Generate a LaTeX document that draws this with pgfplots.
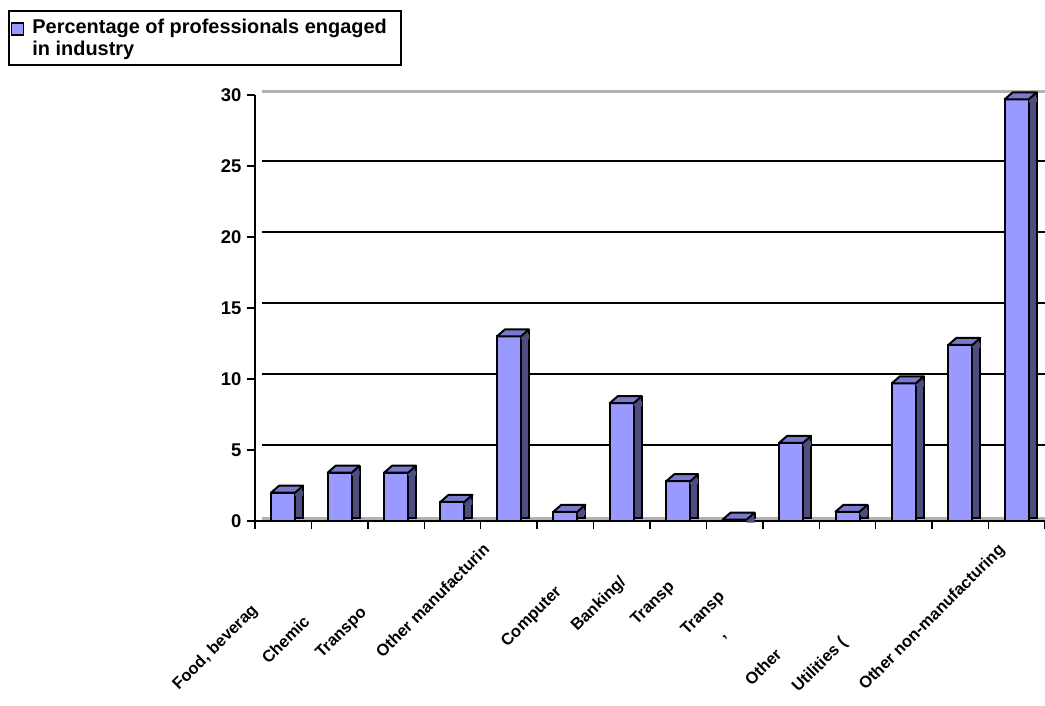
\documentclass[border=0pt]{standalone}
\usepackage{pgfplots}
\usepackage{pgfplotstable}
\pgfplotsset{compat=1.18}
\usepackage{fontspec}
\setmainfont{Liberation Sans}
\definecolor{barcol}{RGB}{153,153,255}
\definecolor{sidecol}{RGB}{77,77,128}
\definecolor{topcol}{RGB}{122,122,204}
\pgfdeclareplotmark{bartop}{%
  \pgfsetlinewidth{2bp}\pgfsetstrokecolor{black}\pgfsetroundjoin
  \pgfsetfillcolor{sidecol}%
  \pgfpathmoveto{\pgfqpoint{12bp}{0bp}}%
  \pgfpathlineto{\pgfqpoint{20bp}{7bp}}%
  \pgfpathlineto{\pgfqpoint{20bp}{-3bp}}%
  \pgfpathlineto{\pgfqpoint{12bp}{-3bp}}%
  \pgfpathclose
  \pgfusepathqfill
  \pgfsetfillcolor{topcol}%
  \pgfpathmoveto{\pgfqpoint{-12bp}{0bp}}%
  \pgfpathlineto{\pgfqpoint{-4bp}{7bp}}%
  \pgfpathlineto{\pgfqpoint{20bp}{7bp}}%
  \pgfpathlineto{\pgfqpoint{12bp}{0bp}}%
  \pgfpathclose
  \pgfusepathqfillstroke
  \pgfpathmoveto{\pgfqpoint{20bp}{7bp}}%
  \pgfpathlineto{\pgfqpoint{20bp}{2bp}}%
  \pgfusepathqstroke
}
\pgfplotstableread{
x y
1 2.0
2 3.4
3 3.4
4 1.35
5 13.0
6 0.65
7 8.3
8 2.8
9 0.1
10 5.5
11 0.65
12 9.7
13 12.4
14 29.7
}\datatable
\begin{document}
\begin{tikzpicture}
\useasboundingbox (-255bp,-185bp) rectangle (790bp,521bp);
\begin{axis}[
  scale only axis,
  width=790bp, height=426bp,
  xmin=0.5, xmax=14.5, ymin=0, ymax=30,
  clip=false,
  axis x line*=bottom, axis y line*=left,
  axis line style={black, line width=2bp},
  xtick={0.5,1.5,...,14.5}, xticklabels={},
  ytick={0,5,...,30},
  minor ytick={0,30}, yminorgrids,
  minor grid style={gray!60, line width=3bp, yshift=3bp, xshift=7bp},
  minor tick length=0pt,
  extra y ticks={5,10,15,20,25},
  extra y tick labels={},
  extra y tick style={grid=major, major grid style={black, line width=2bp, yshift=5bp, xshift=7bp}, major tick length=0pt},
  tick align=outside,
  major tick length=8bp,
  tick style={black, line width=1.5bp},
  /pgf/number format/assume math mode=true,
  yticklabel style={font=\bfseries\fontsize{18.5}{20}\selectfont, xshift=-2bp},
  legend style={at={(-0.3127,1.1995)}, anchor=north west, draw=black, line width=2bp,
    font=\bfseries\fontsize{20}{22}\selectfont, cells={align=left}, inner xsep=2bp, inner ysep=6bp,
    /tikz/column sep=6bp},
  legend image code/.code={\draw[fill=barcol, line width=1.5bp] (2bp,3bp) rectangle (14bp,15bp);},
]
\addplot[ybar, bar width=8bp, bar shift=16bp, fill=sidecol, draw=black, line width=2bp, yshift=3.5bp, forget plot] table {\datatable};
\addplot[ybar, bar width=24bp, bar shift=0bp, fill=barcol, draw=black, line width=2bp] table {\datatable};
\addlegendentry{Percentage of professionals engaged\hspace*{10bp}\\in industry}
\addplot[only marks, mark=bartop, forget plot] table {\datatable};
\begin{scope}[every node/.style={rotate=45, anchor=north east, inner sep=0pt, font=\bfseries\fontsize{16.5}{18}\selectfont}]
\node at (axis cs:0.41,-5.72) {Food, beverag};
\node at (axis cs:1.335,-6.56) {Chemic};
\node at (axis cs:2.345,-5.93) {Transpo};
\node at (axis cs:4.525,-1.49) {Other manufacturin};
\node at (axis cs:5.80,-4.45) {Computer};
\node at (axis cs:6.935,-3.74) {Banking/};
\node at (axis cs:7.80,-4.10) {Transp};
\node at (axis cs:8.69,-4.80) {Transp};
\node at (axis cs:8.83,-7.97) {'};
\node at (axis cs:9.70,-8.88) {Other};
\node at (axis cs:10.85,-8.04) {Utilities (};
\node at (axis cs:13.65,-1.49) {Other non-manufacturing};
\end{scope}
\end{axis}
\end{tikzpicture}
\end{document}
